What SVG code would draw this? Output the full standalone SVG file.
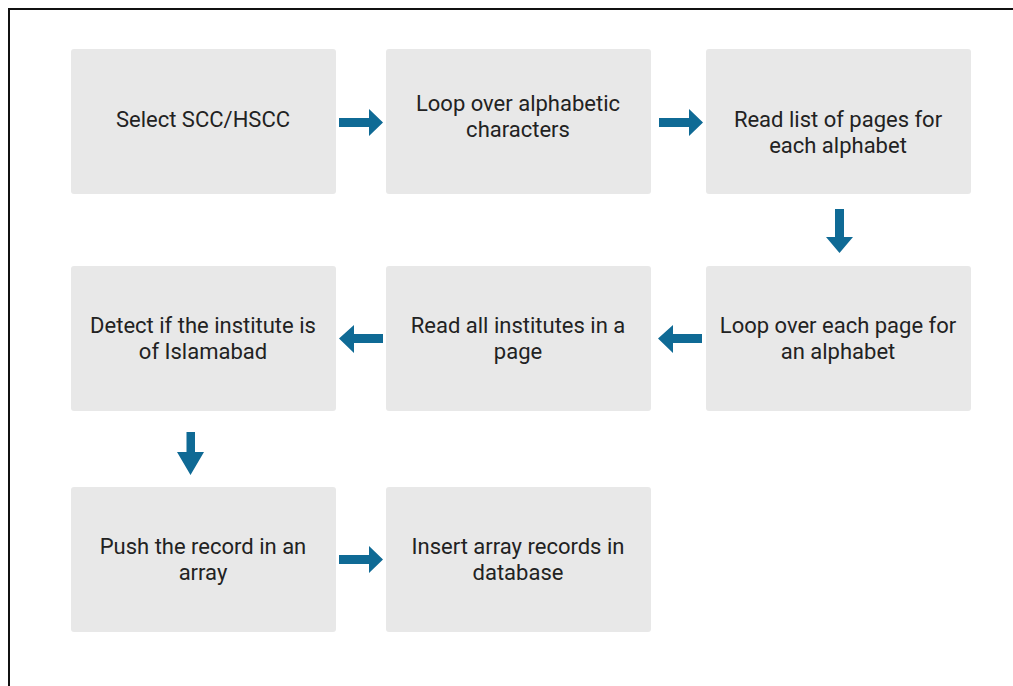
<svg xmlns="http://www.w3.org/2000/svg" width="1013" height="686" viewBox="0 0 1013 686">
  <style>
    .box { fill: #e8e8e8; }
    .lbl { font-family: Roboto, "Liberation Sans", sans-serif; font-size: 22px; fill: #222222; text-anchor: middle; }
    .arrow { fill: #0f6a95; }
  </style>
  <rect width="1013" height="686" fill="#ffffff"/>
  <!-- outer frame -->
  <path d="M9,686 V9 H1013" fill="none" stroke="#111111" stroke-width="2"/>

  <g id="node-select">
    <rect class="box" x="71" y="49" width="265" height="145" rx="3"/>
    <text class="lbl" x="203" y="127">Select SCC/HSCC</text>
  </g>
  <g id="node-loop-chars">
    <rect class="box" x="386" y="49" width="265" height="145" rx="3"/>
    <text class="lbl" x="518" y="111">Loop over alphabetic</text>
    <text class="lbl" x="518" y="137">characters</text>
  </g>
  <g id="node-read-pages">
    <rect class="box" x="706" y="49" width="265" height="145" rx="3"/>
    <text class="lbl" x="838" y="127">Read list of pages for</text>
    <text class="lbl" x="838" y="153">each alphabet</text>
  </g>
  <g id="node-loop-pages">
    <rect class="box" x="706" y="266" width="265" height="145" rx="3"/>
    <text class="lbl" x="838" y="333">Loop over each page for</text>
    <text class="lbl" x="838" y="359">an alphabet</text>
  </g>
  <g id="node-read-institutes">
    <rect class="box" x="386" y="266" width="265" height="145" rx="3"/>
    <text class="lbl" x="518" y="333">Read all institutes in a</text>
    <text class="lbl" x="518" y="359">page</text>
  </g>
  <g id="node-detect">
    <rect class="box" x="71" y="266" width="265" height="145" rx="3"/>
    <text class="lbl" x="203" y="333">Detect if the institute is</text>
    <text class="lbl" x="203" y="359">of Islamabad</text>
  </g>
  <g id="node-push">
    <rect class="box" x="71" y="487" width="265" height="145" rx="3"/>
    <text class="lbl" x="203" y="554">Push the record in an</text>
    <text class="lbl" x="203" y="580">array</text>
  </g>
  <g id="node-insert">
    <rect class="box" x="386" y="487" width="265" height="145" rx="3"/>
    <text class="lbl" x="518" y="554">Insert array records in</text>
    <text class="lbl" x="518" y="580">database</text>
  </g>

  <g id="connectors">
    <!-- right arrows -->
    <polygon class="arrow" points="339,118 369,118 369,109 383,122.5 369,136 369,127 339,127"/>
    <polygon class="arrow" points="659,118 689,118 689,109 703,122.5 689,136 689,127 659,127"/>
    <!-- down arrow column 3 -->
    <polygon class="arrow" points="835,209 844,209 844,237 853,237 839.5,253 826,237 835,237"/>
    <!-- left arrows row 2 -->
    <polygon class="arrow" points="702,334 673,334 673,325 658,338.5 673,353 673,343 702,343"/>
    <polygon class="arrow" points="383,334 354,334 354,325 339,338.5 354,353 354,343 383,343"/>
    <!-- down arrow column 1 -->
    <polygon class="arrow" points="186.5,432 195,432 195,452 204,452 190.5,475 177,452 186.5,452"/>
    <!-- right arrow row 3 -->
    <polygon class="arrow" points="339,555 369,555 369,546 383,559.5 369,573 369,564 339,564"/>
  </g>
</svg>
